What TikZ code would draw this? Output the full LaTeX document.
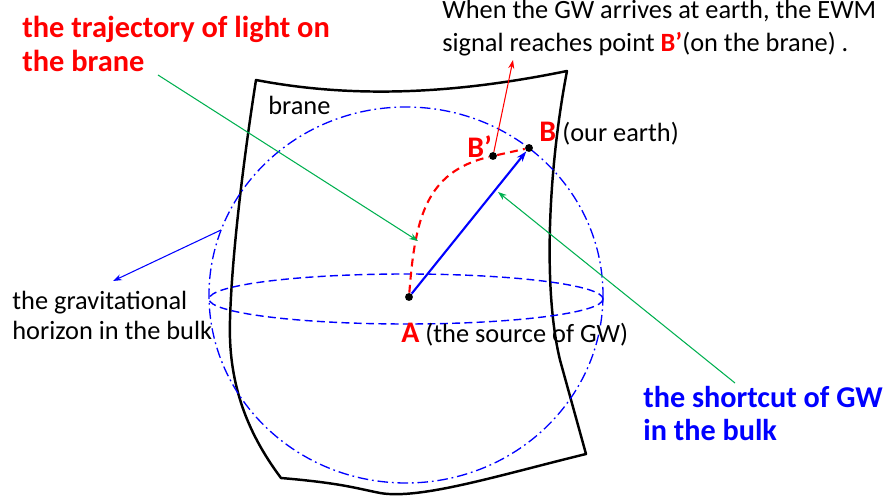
\documentclass[tikz,border=0pt]{standalone}
\usepackage{fontspec}
\setmainfont{Carlito}
\usetikzlibrary{arrows.meta}
\definecolor{gwred}{RGB}{255,0,0}
\definecolor{gwblue}{RGB}{0,0,255}
\definecolor{gwgreen}{RGB}{0,176,80}
\begin{document}
\begin{tikzpicture}[x=0.02cm,y=-0.02cm,
  txt/.style={anchor=base west,inner sep=0pt,font=\fontsize{15}{18}\selectfont},
  redtxt/.style={anchor=base west,inner sep=0pt,text=gwred,font=\fontsize{17.3}{20}\selectfont\bfseries},
  bluetxt/.style={anchor=base west,inner sep=0pt,text=gwblue,font=\fontsize{17.2}{20}\selectfont\bfseries},
  ptlabel/.style={anchor=base west,inner sep=0pt,text=gwred,font=\fontsize{17}{20}\selectfont\bfseries},
  brane/.style={line width=1.4pt,line join=round},
  horizon/.style={gwblue,line width=0.75pt,dash pattern=on 6pt off 2.2pt on 1pt off 2.2pt},
  equator/.style={gwblue,line width=0.8pt,dash pattern=on 4.5pt off 2.5pt},
  dot/.style={circle,fill=black,inner sep=0pt,minimum size=4.5pt},
  gwarrow/.style={gwblue,line width=1.2pt,-{Stealth[length=6pt,width=4pt]}},
  lightpath/.style={gwred,line width=1.2pt,dash pattern=on 4.5pt off 3pt},
  pointer/.style={line width=0.6pt,-{Stealth[length=5pt,width=3.5pt]}}
]
\useasboundingbox (0,0) rectangle (887,496);

% brane
\draw[brane] (256,80) .. controls (350,98) and (450,95) .. (567,71)
  .. controls (548,170) and (543,290) .. (560,360) -- (586,454)
  .. controls (500,475) and (420,500) .. (380,493)
  .. controls (355,488) and (340,483) .. (281,478)
  .. controls (245,430) and (228,380) .. (230,320)
  .. controls (232,250) and (245,150) .. cycle;

% horizon sphere
\draw[horizon] (406,295) ellipse [x radius=197, y radius=188];
\draw[equator] (406,299) ellipse [x radius=197, y radius=25];

% points
\node[dot] (A) at (409,297) {};
\node[dot] (B) at (529,148) {};
\node[dot] (Bp) at (493,156) {};

% light path on brane
\draw[lightpath] (A) .. controls (415,220) and (425,172) .. (Bp) -- (B);
% shortcut
\draw[gwarrow] (A) -- (B);

% texts
\node[redtxt] (t1) at (22,38) {the trajectory of light on};
\node[redtxt] (t2) at (22,72) {the brane};
\node[txt] (w1) at (442,19) {When the GW arrives at earth, the EWM};
\node[txt] (w2) at (442,52) {signal reaches point \textcolor{gwred}{\bfseries B’}(on the brane) .};
\node[txt] (br) at (268,115) {brane};
\node[txt] (h1) at (12,310) {the gravitational};
\node[txt] (h2) at (12,340) {horizon in the bulk};
\node[ptlabel] (Alab) at (401,343) {A};
\node[txt] (Atxt) at (425,343) {(the source of GW)};
\node[ptlabel] (Blab) at (539,142) {B};
\node[txt] (Btxt) at (562,142) {(our earth)};
\node[ptlabel] (Bplab) at (467,158) {B’};
\node[bluetxt] (s1) at (643,408) {the shortcut of GW};
\node[bluetxt] (s2) at (643,441) {in the bulk};

% pointers
\coordinate (gA) at (158,75);
\coordinate (gAt) at (418,241);
\draw[pointer,gwgreen] (gA) -- (gAt);
\coordinate (gB) at (735,383);
\coordinate (gBt) at (498,192);
\draw[pointer,gwgreen] (gB) -- (gBt);
\coordinate (rT) at (513,60);
\draw[pointer,gwred] (Bp) -- (rT);
\coordinate (hS) at (221,230);
\coordinate (hT) at (113,281);
\draw[pointer,gwblue] (hS) -- (hT);
\end{tikzpicture}
\end{document}
